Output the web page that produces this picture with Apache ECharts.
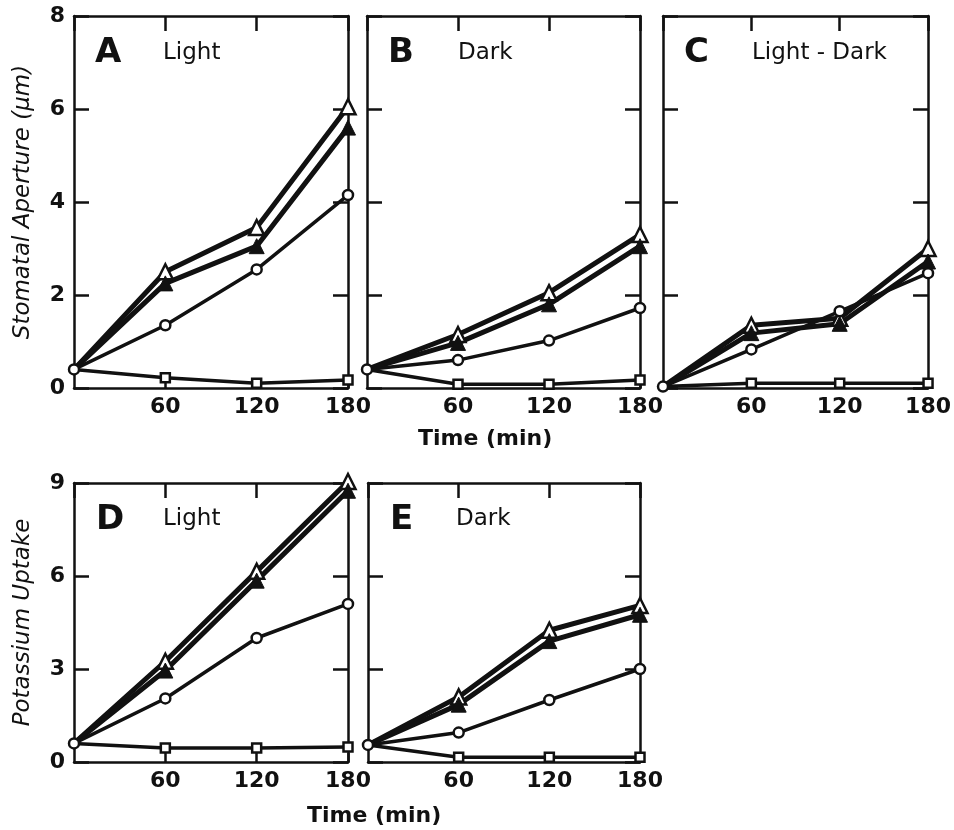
<!DOCTYPE html>
<html>
<head>
<meta charset="utf-8">
<script src="https://cdn.jsdelivr.net/npm/echarts@6/dist/echarts.min.js"></script>
<style>html,body{margin:0;padding:0;background:#fff}#c{width:954px;height:830px}</style>
</head>
<body>
<div id="c"></div>
<script>
// ---- data ----
const times = [0, 60, 120, 180];
const xTickLabels = ['60', '120', '180'];
const apertureTicks = [0, 2, 4, 6, 8];
const uptakeTicks = [0, 3, 6, 9];
const panelLetters = ['A', 'B', 'C', 'D', 'E'];
const panelConditions = ['Light', 'Dark', 'Light - Dark', 'Light', 'Dark'];

const A_openTri   = [0.4, 2.5, 3.45, 6.05];
const A_filledTri = [0.4, 2.25, 3.05, 5.6];
const A_circle    = [0.4, 1.35, 2.55, 4.15];
const A_square    = [0.4, 0.22, 0.1, 0.17];

const B_openTri   = [0.4, 1.15, 2.05, 3.3];
const B_filledTri = [0.4, 0.97, 1.8, 3.05];
const B_circle    = [0.4, 0.6, 1.02, 1.72];
const B_square    = [0.4, 0.08, 0.08, 0.17];

const C_openTri   = [0.03, 1.35, 1.5, 3.0];
const C_filledTri = [0.03, 1.18, 1.38, 2.72];
const C_circle    = [0.03, 0.83, 1.65, 2.47];
const C_square    = [0.03, 0.1, 0.1, 0.1];

const D_openTri   = [0.6, 3.25, 6.15, 9.05];
const D_filledTri = [0.6, 2.95, 5.85, 8.75];
const D_circle    = [0.6, 2.05, 4.0, 5.1];
const D_square    = [0.6, 0.45, 0.45, 0.48];

const E_openTri   = [0.55, 2.1, 4.25, 5.05];
const E_filledTri = [0.55, 1.85, 3.9, 4.75];
const E_circle    = [0.55, 0.95, 2.0, 3.0];
const E_square    = [0.55, 0.15, 0.15, 0.15];

const panels = [
  {openTri: A_openTri, filledTri: A_filledTri, circle: A_circle, square: A_square, ticks: apertureTicks, yLabels: true, yName: 'Stomatal Aperture (\u03bcm)'},
  {openTri: B_openTri, filledTri: B_filledTri, circle: B_circle, square: B_square, ticks: apertureTicks, yLabels: false},
  {openTri: C_openTri, filledTri: C_filledTri, circle: C_circle, square: C_square, ticks: apertureTicks, yLabels: false},
  {openTri: D_openTri, filledTri: D_filledTri, circle: D_circle, square: D_square, ticks: uptakeTicks, yLabels: true, yName: 'Potassium Uptake'},
  {openTri: E_openTri, filledTri: E_filledTri, circle: E_circle, square: E_square, ticks: uptakeTicks, yLabels: false}
];

// ---- layout ----
const grids = [
  {left: 74, top: 16, width: 274, height: 372},
  {left: 367, top: 16, width: 273, height: 372},
  {left: 663, top: 16, width: 274, height: 372},
  {left: 74, top: 483, width: 274, height: 279},
  {left: 368, top: 483, width: 272, height: 279}
];

const INK = '#111';
const FONT = 'DejaVu Sans';
const xAxes = [], yAxes = [], series = [], graphics = [];

panels.forEach((p, i) => {
  const yMax = p.ticks[p.ticks.length - 1];
  const yInt = p.ticks[1] - p.ticks[0];
  const lineAx = {show: true, onZero: false, lineStyle: {color: INK, width: 2.5}};
  xAxes.push({
    gridIndex: i, type: 'value', position: 'bottom', min: 0, max: 180, interval: 60,
    axisLine: lineAx, splitLine: {show: false},
    axisTick: {show: true, inside: true, length: 9, lineStyle: {color: INK, width: 2.5}},
    axisLabel: {show: true, showMinLabel: false, margin: 8, color: INK, fontFamily: FONT, fontWeight: 'bold', fontSize: 22,
      formatter: v => (v === 0 ? '' : xTickLabels[times.indexOf(v) - 1])}
  });
  xAxes.push({
    gridIndex: i, type: 'value', position: 'top', min: 0, max: 180, interval: 60,
    axisLine: lineAx, splitLine: {show: false},
    axisTick: {show: true, inside: true, length: 15, lineStyle: {color: INK, width: 2.5}},
    axisLabel: {show: false}
  });
  yAxes.push({
    gridIndex: i, type: 'value', position: 'left', min: 0, max: yMax, interval: yInt,
    axisLine: lineAx, splitLine: {show: false},
    axisTick: {show: true, inside: true, length: 15, lineStyle: {color: INK, width: 2.5}},
    axisLabel: {show: p.yLabels, margin: 9, color: INK, fontFamily: FONT, fontWeight: 'bold', fontSize: 22},
    name: p.yName || '', nameLocation: 'middle', nameRotate: 90, nameGap: 39,
    nameTextStyle: {color: INK, fontFamily: FONT, fontStyle: 'italic', fontSize: 23}
  });
  yAxes.push({
    gridIndex: i, type: 'value', position: 'right', min: 0, max: yMax, interval: yInt,
    axisLine: lineAx, splitLine: {show: false},
    axisTick: {show: true, inside: true, length: 15, lineStyle: {color: INK, width: 2.5}},
    axisLabel: {show: false}
  });

  const mk = vals => vals.map((v, k) => k === 0 ? {value: [times[k], v], symbol: 'none'} : [times[k], v]);
  const base = {type: 'line', xAxisIndex: 2 * i, yAxisIndex: 2 * i, clip: false, animation: false, silent: true};
  series.push(Object.assign({}, base, {
    name: 'openTri', data: mk(p.openTri), symbol: 'triangle', symbolSize: 15, z: 3,
    lineStyle: {color: INK, width: 5}, itemStyle: {color: '#fff', borderColor: INK, borderWidth: 2.5}
  }));
  series.push(Object.assign({}, base, {
    name: 'filledTri', data: mk(p.filledTri), symbol: 'triangle', symbolSize: 15, z: 3,
    lineStyle: {color: INK, width: 5}, itemStyle: {color: INK, borderColor: INK, borderWidth: 1}
  }));
  series.push(Object.assign({}, base, {
    name: 'square', data: mk(p.square), symbol: 'rect', symbolSize: 9, z: 3,
    lineStyle: {color: INK, width: 3.5}, itemStyle: {color: '#fff', borderColor: INK, borderWidth: 2.5}
  }));
  series.push(Object.assign({}, base, {
    name: 'circle', data: p.circle.map((v, k) => [times[k], v]), symbol: 'circle', symbolSize: 10, z: 5,
    lineStyle: {color: INK, width: 3.5}, itemStyle: {color: '#fff', borderColor: INK, borderWidth: 2.5}
  }));
});

// panel letters and condition texts
const letterPos = [[95, 55], [388, 55], [684, 55], [96, 522], [390, 522]];
const condPos = [[163, 57], [458, 57], [752, 57], [163, 523], [456, 523]];
panels.forEach((p, i) => {
  graphics.push({type: 'text', left: letterPos[i][0], top: letterPos[i][1] - 19,
    style: {text: panelLetters[i], fill: INK, font: 'bold 34px "DejaVu Sans"'}});
  graphics.push({type: 'text', left: condPos[i][0], top: condPos[i][1] - 15,
    style: {text: panelConditions[i], fill: INK, font: '500 23px "DejaVu Sans"'}});
});
graphics.push({type: 'text', left: 418, top: 428, style: {text: 'Time (min)', fill: INK, font: 'bold 22px "DejaVu Sans"'}});
graphics.push({type: 'text', left: 307, top: 805, style: {text: 'Time (min)', fill: INK, font: 'bold 22px "DejaVu Sans"'}});

const chart = echarts.init(document.getElementById('c'), null, {renderer: 'canvas'});
chart.setOption({
  backgroundColor: '#fff',
  animation: false,
  grid: grids,
  xAxis: xAxes,
  yAxis: yAxes,
  series: series,
  graphic: graphics
});
</script>
</body>
</html>
